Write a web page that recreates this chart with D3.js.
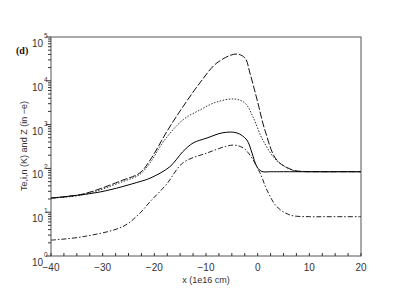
<!DOCTYPE html>
<html>
<head>
<meta charset="utf-8">
<script src="https://cdn.jsdelivr.net/npm/d3@7"></script>
<style>
  body { margin: 0; background: #fff; }
  svg { display: block; font-family: "Liberation Sans", Arial, sans-serif; }
</style>
</head>
<body>
<svg id="chart" width="414" height="293"></svg>
<script>
// values (x in 1e16 cm, y in K / charge)
const xTicks = [-40, -30, -20, -10, 0, 10, 20];
const yDecades = [0, 1, 2, 3, 4, 5];

const teX = [-40, -33.8, -26.1, -22.8, -20.8, -17.4, -14.5, -11.2, -7.9, -4.2, -2.45, -1.5, -0.1, 1.4, 3.7, 6.8, 8.8, 12, 16, 20];
const teY = [21, 26, 54, 79, 156, 750, 2520, 8900, 25500, 40800, 33000, 15000, 3650, 750, 155, 92, 85, 84, 84, 84];

const tiX = [-40, -33.8, -26.1, -22.8, -20.8, -18.3, -14.5, -11.2, -7.9, -4.4, -2.45, -0.9, 1.0, 3.7, 6.8, 8.8, 12, 16, 20];
const tiY = [21, 25, 50, 73, 135, 400, 1270, 2150, 3300, 3830, 3100, 1490, 445, 150, 90, 85, 84, 84, 84];

const tnX = [-40, -30.5, -22.8, -20.8, -17, -14.5, -12.5, -9.8, -6.7, -4.0, -2.1, -1.1, -0.13, 0.84, 2.5, 5, 10, 15, 20];
const tnY = [21, 29, 50, 60, 109, 240, 380, 495, 653, 645, 445, 225, 108, 85, 84, 84, 84, 84, 84];

const zX = [-40, -33.8, -26.1, -23, -20.8, -17.6, -14.5, -9.8, -4.8, -2.8, -1.5, 0.45, 1.8, 3.7, 6.3, 10.1, 13, 16.5, 20];
const zY = [2.3, 2.76, 4.7, 9, 17.5, 44, 133, 225, 340, 293, 202, 79, 32, 13.4, 8.6, 7.9, 7.9, 7.9, 7.9];

const svg = d3.select("#chart");
const mLeft = 51, mRight = 361, mTop = 37, mBottom = 256;

const x = d3.scaleLinear().domain([-40, 20]).range([mLeft, mRight]);
const y = d3.scaleLog().domain([1, 1e5]).range([mBottom, mTop]);

// frame
svg.append("rect")
  .attr("x", mLeft).attr("y", mTop)
  .attr("width", mRight - mLeft).attr("height", mBottom - mTop)
  .attr("fill", "none").attr("stroke", "#555").attr("stroke-width", 1);

// x ticks, pointing inward
const xMinor = d3.range(-40, 20.01, 2.5);
svg.append("g").selectAll("line").data(xMinor).join("line")
  .attr("x1", d => x(d)).attr("x2", d => x(d))
  .attr("y1", mBottom).attr("y2", mBottom - 3)
  .attr("stroke", "#333");

svg.append("g").selectAll("text").data(xTicks).join("text")
  .attr("x", d => x(d)).attr("y", 271)
  .attr("text-anchor", "middle")
  .attr("font-size", 10).attr("fill", "#333")
  .text(d => d < 0 ? "\u2212" + Math.abs(d) : d);

// y ticks, pointing outward, with minor log ticks
const yMinor = [];
yDecades.slice(0, -1).forEach(e => {
  for (let k = 2; k <= 9; k++) yMinor.push(k * Math.pow(10, e));
});
svg.append("g").selectAll("line").data(yMinor).join("line")
  .attr("x1", mLeft - 3).attr("x2", mLeft)
  .attr("y1", d => y(d)).attr("y2", d => y(d))
  .attr("stroke", "#333");
svg.append("g").selectAll("line").data(yDecades).join("line")
  .attr("x1", mLeft - 5).attr("x2", mLeft)
  .attr("y1", d => y(Math.pow(10, d))).attr("y2", d => y(Math.pow(10, d)))
  .attr("stroke", "#333");

const yLab = svg.append("g").selectAll("g").data(yDecades).join("g")
  .attr("transform", d => `translate(0,${y(Math.pow(10, d))})`);
yLab.append("text")
  .attr("x", 43).attr("y", 10)
  .attr("text-anchor", "end")
  .attr("font-size", 10).attr("fill", "#333")
  .text("10");
yLab.append("text")
  .attr("x", 44).attr("y", 1)
  .attr("font-size", 6.5).attr("fill", "#333")
  .text(d => d);

// axis titles
svg.append("text")
  .attr("x", 206).attr("y", 283)
  .attr("text-anchor", "middle")
  .attr("font-size", 9).attr("fill", "#333")
  .text("x (1e16 cm)");

svg.append("text")
  .attr("transform", "translate(27,146) rotate(-90)")
  .attr("text-anchor", "middle")
  .attr("font-size", 9).attr("fill", "#333")
  .text("Te,i,n (K) and Z (in \u2212e)");

svg.append("text")
  .attr("x", 16).attr("y", 54)
  .attr("font-family", "Liberation Serif, serif")
  .attr("font-weight", "bold")
  .attr("font-size", 10).attr("fill", "#111")
  .text("(d)");

// curves
const line = d3.line()
  .x(d => x(d[0])).y(d => y(d[1]))
  .curve(d3.curveCatmullRom.alpha(0.5));

const series = [
  { xs: teX, ys: teY, dash: "7,2", color: "#111" },
  { xs: tiX, ys: tiY, dash: "1.5,1.5", color: "#333" },
  { xs: tnX, ys: tnY, dash: null, color: "#000" },
  { xs: zX, ys: zY, dash: "5,2,1.5,2", color: "#222" }
];

svg.append("g").selectAll("path").data(series).join("path")
  .attr("d", s => line(d3.zip(s.xs, s.ys)))
  .attr("fill", "none")
  .attr("stroke", s => s.color)
  .attr("stroke-width", 1)
  .attr("stroke-dasharray", s => s.dash);
</script>
</body>
</html>
